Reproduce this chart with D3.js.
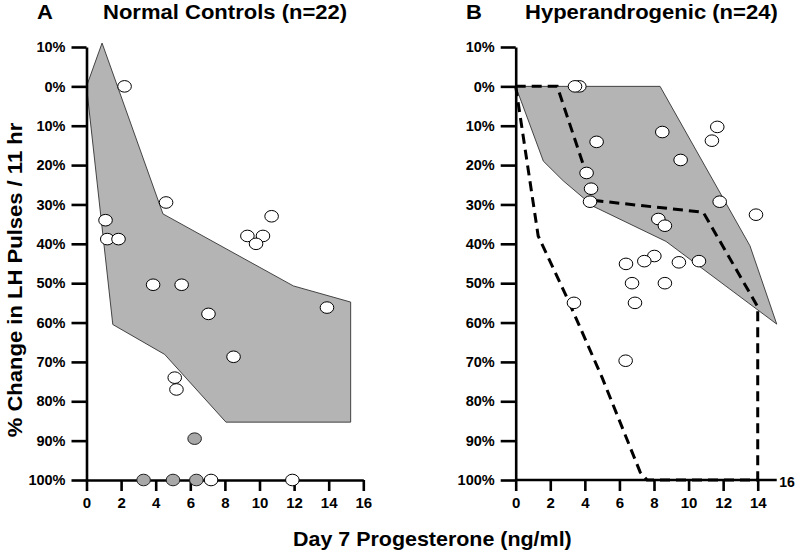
<!DOCTYPE html>
<html><head><meta charset="utf-8">
<script src="https://cdn.jsdelivr.net/npm/d3@7"></script>
<style>
body{margin:0;background:#fff}
text{font-family:"Liberation Sans",Arial,Helvetica,sans-serif;font-weight:bold;fill:#000}
</style>
</head><body>
<svg id="c" width="800" height="556"></svg>
<script>
// ---- data ----
const yTicks = [-10,0,10,20,30,40,50,60,70,80,90,100];
const xTicksA = [0,2,4,6,8,10,12,14,16];
const xTicksB = [0,2,4,6,8,10,12,14];

// Panel A: Normal Controls (progesterone ng/ml, % decrease in LH pulses)
const controlsOpen = [[2.2,0],[4.6,29.5],[10.7,33],[1.1,34],[9.3,38],[10.2,38],[9.8,40],
  [1.2,38.8],[1.85,38.8],[3.85,50.4],[5.5,50.4],[7.05,57.8],[13.9,56.2],[8.5,68.7],
  [5.1,74],[5.2,77],[7.2,100],[11.9,100]];
const controlsFilled = [[6.25,89.5],[3.3,100],[5.0,100],[6.35,100]];
const controlsRange = [[0,0],[0.9,-11],[4.42,32.4],[11.96,50.7],[15.27,54.8],[15.27,85.3],
  [8.06,85.3],[4.52,68.1],[1.52,60.5]];

// Panel B: Hyperandrogenic
const hyperOpen = [[3.68,0],[3.43,0],[4.68,14.1],[8.48,11.6],[11.66,10.3],[11.35,13.8],
  [9.54,18.7],[4.1,22],[4.36,26],[4.3,29.3],[11.8,29.3],[13.9,32.6],[8.25,33.7],[8.63,35.4],
  [8.02,43.1],[7.44,44.4],[6.38,45.1],[9.44,44.7],[10.6,44.4],[6.73,50],[8.63,50],
  [6.9,55],[3.37,55],[6.36,69.7]];
const hyperRange = [[0,0],[8.35,0],[13.55,40.5],[15.1,60.4],[8.7,39.4],[4.5,30.5],[2.75,24],[1.6,19]];
const hyperDashA = [[0,0],[2.4,0],[4.6,29],[10.85,32],[14,56],[14,100]];
const hyperDashB = [[0,0],[1.3,38],[3,54],[5,74],[7.2,98],[7.6,100],[14,100]];

// ---- drawing ----
const svg = d3.select("#c");
const y = d3.scaleLinear().domain([-10,100]).range([47,480]);
const xA = d3.scaleLinear().domain([0,16]).range([86.5,363.3]);
const xB = d3.scaleLinear().domain([0,16]).range([515.7,792.3]);

function txt(s, x, yy, size, anchor, sx, rot){
  svg.append("text").text(s)
    .attr("transform", `translate(${x},${yy}) rotate(${rot||0}) scale(${sx||1},1)`)
    .attr("text-anchor", anchor||"start")
    .style("font-size", size+"px");
}

function panel(x, ticksX, opts){
  const g = svg.append("g");
  // shaded range
  const line = d3.line().x(d=>x(d[0])).y(d=>y(d[1]));
  g.append("path").datum(opts.range)
    .attr("d", d => line(d)+"Z")
    .attr("fill","#b4b4b4").attr("stroke","#333").attr("stroke-width",0.9);
  // dashed lines
  (opts.dashes||[]).forEach(ds=>{
    g.append("path").datum(ds).attr("d", line)
      .attr("fill","none").attr("stroke","#000").attr("stroke-width",3)
      .attr("stroke-dasharray","10,6");
  });
  // axes
  const ya = d3.axisLeft(y).tickValues(yTicks).tickFormat(d=>Math.abs(d)+"%")
    .tickSize(15).tickPadding(6).tickSizeOuter(0);
  const gy = g.append("g").attr("transform",`translate(${x(0)},0)`).call(ya);
  const xa = d3.axisBottom(x).tickValues(ticksX).tickFormat(d=>d)
    .tickSize(11).tickPadding(6).tickSizeOuter(0);
  const gx = g.append("g").attr("transform",`translate(0,${y(100)})`).call(xa);
  if (opts.xEnd !== undefined){
    gx.select(".domain").attr("d", `M${x(0)},0H${x(opts.xEnd)}`);
  }
  [gy,gx].forEach(a=>{
    a.selectAll(".domain,.tick line").attr("stroke","#000").attr("stroke-width",2.6);
    a.selectAll("text").style("font-family",'"Liberation Sans",Arial,sans-serif')
      .style("font-weight","bold");
  });
  gy.selectAll("text").style("font-size","14.5px");
  gx.selectAll("text").style("font-size","15px");
  // points
  (opts.filled||[]).forEach(d=>{
    g.append("ellipse").attr("cx",x(d[0])).attr("cy",y(d[1])).attr("rx",6.8).attr("ry",5.8)
      .attr("fill","#a8a8a8").attr("stroke","#222").attr("stroke-width",1);
  });
  g.selectAll(null).data(opts.open).enter().append("ellipse")
    .attr("cx",d=>x(d[0])).attr("cy",d=>y(d[1])).attr("rx",6.8).attr("ry",5.8)
    .attr("fill","#fff").attr("stroke","#000").attr("stroke-width",1);
  return g;
}

panel(xA, xTicksA, {range:controlsRange, open:controlsOpen, filled:controlsFilled});
panel(xB, xTicksB, {range:hyperRange, open:hyperOpen, dashes:[hyperDashA,hyperDashB], xEnd:15.1});
// stray "16" label of panel B sits on the axis line
txt("16", xB(15.7), 487, 14, "middle", 1);

// titles
txt("A", 37, 19, 19.5, "start", 1.13);
txt("Normal Controls (n=22)", 103, 19, 19.5, "start", 1.13);
txt("B", 466, 19, 19.5, "start", 1.13);
txt("Hyperandrogenic (n=24)", 525, 19, 19.5, "start", 1.13);
// axis titles
txt("Day 7 Progesterone (ng/ml)", 293, 546, 19.5, "start", 1.1);
txt("% Change in LH Pulses / 11 hr", 22, 280, 19.5, "middle", 1.13, -90);
</script>
</body></html>
